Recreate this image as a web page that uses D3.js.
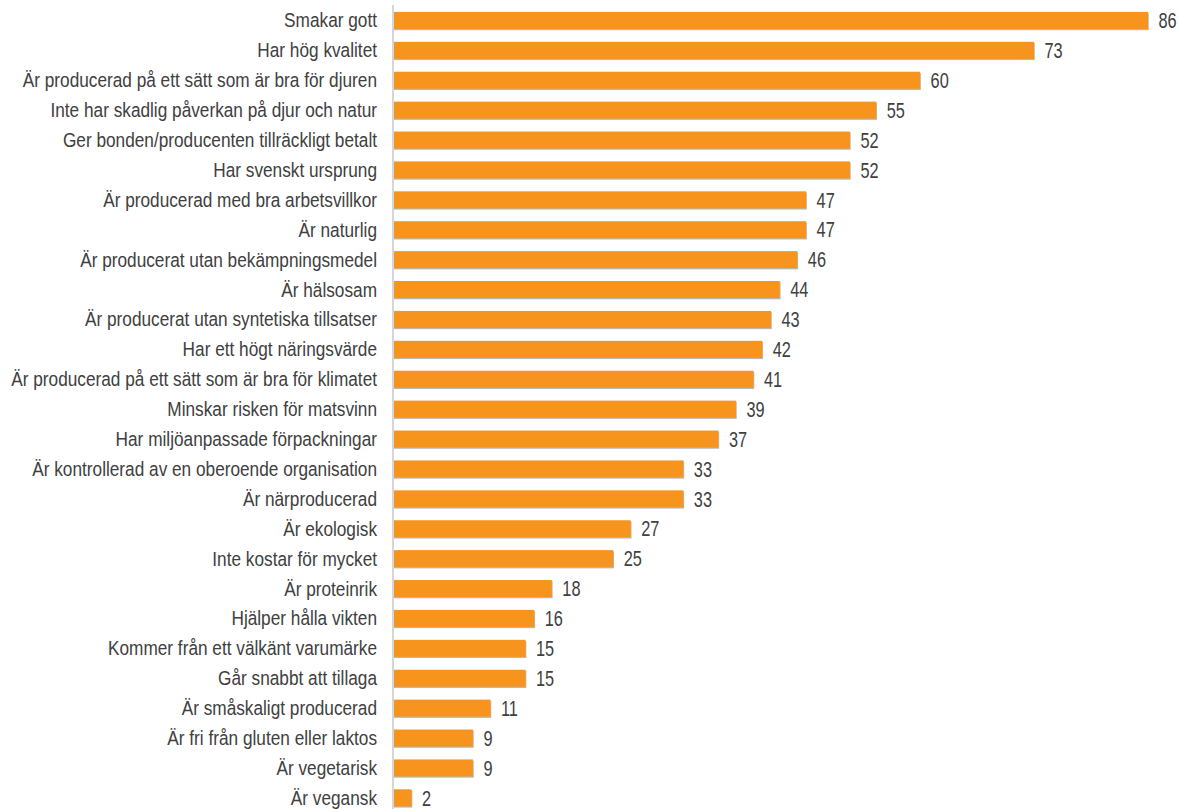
<!DOCTYPE html>
<html><head><meta charset="utf-8">
<script src="https://cdn.jsdelivr.net/npm/d3@7"></script>
<style>body{margin:0;background:#fff}svg{display:block}</style>
</head><body>
<script>
const categories = ["Smakar gott","Har hög kvalitet","Är producerad på ett sätt som är bra för djuren","Inte har skadlig påverkan på djur och natur","Ger bonden/producenten tillräckligt betalt","Har svenskt ursprung","Är producerad med bra arbetsvillkor","Är naturlig","Är producerat utan bekämpningsmedel","Är hälsosam","Är producerat utan syntetiska tillsatser","Har ett högt näringsvärde","Är producerad på ett sätt som är bra för klimatet","Minskar risken för matsvinn","Har miljöanpassade förpackningar","Är kontrollerad av en oberoende organisation ","Är närproducerad","Är ekologisk","Inte kostar för mycket","Är proteinrik","Hjälper hålla vikten","Kommer från ett välkänt varumärke","Går snabbt att tillaga","Är småskaligt producerad","Är fri från gluten eller laktos","Är vegetarisk","Är vegansk"];
const values = [86,73,60,55,52,52,47,47,46,44,43,42,41,39,37,33,33,27,25,18,16,15,15,11,9,9,2];

const W=1179,H=809;
const font='"Liberation Sans",Arial,sans-serif';
const svg=d3.select("body").append("svg").attr("width",W).attr("height",H);
const x=d3.scaleLinear().domain([0,86]).range([394,1148]);
const y=d3.scaleBand().domain(categories).range([5.5,812.8]).paddingInner(0.43).paddingOuter(0.215);

const g=svg.append("g");
g.selectAll("rect.sh").data(values).join("rect")
 .attr("x",x(0)).attr("y",(d,i)=>y(categories[i])+1.2)
 .attr("width",d=>x(d)-x(0)+0.8).attr("height",y.bandwidth())
 .attr("fill","#b8b8b8");
g.selectAll("rect.bar").data(values).join("rect")
 .attr("x",x(0)).attr("y",(d,i)=>y(categories[i]))
 .attr("width",d=>x(d)-x(0)).attr("height",y.bandwidth())
 .attr("fill","#F7941D");
svg.append("line").attr("x1",x(0)-1).attr("x2",x(0)-1).attr("y1",5).attr("y2",H)
 .attr("stroke","#c8c8c8").attr("stroke-width",1.5);

const labelSize=19.5;
const probe=svg.append("text").attr("font-family",font).attr("font-size",labelSize)
 .text("Är producerad på ett sätt som är bra för klimatet");
const len=probe.node().getComputedTextLength();
probe.remove();
const sx=len>0?366/len:0.8;

svg.selectAll("text.cat").data(categories).join("text").attr("class","cat")
 .attr("transform",d=>`translate(377,${y(d)+y.bandwidth()/2}) scale(${sx},1)`)
 .attr("dy","0.36em")
 .attr("text-anchor","end").attr("font-family",font).attr("font-size",labelSize)
 .attr("fill","#404040").text(d=>d);
svg.selectAll("text.val").data(values).join("text").attr("class","val")
 .attr("transform",(d,i)=>`translate(${x(d)+10.5},${y(categories[i])+y.bandwidth()/2}) scale(0.76,1)`)
 .attr("dy","0.36em")
 .attr("font-family",font).attr("font-size",21.5)
 .attr("fill","#404040").text(d=>d);
</script>
</body></html>
